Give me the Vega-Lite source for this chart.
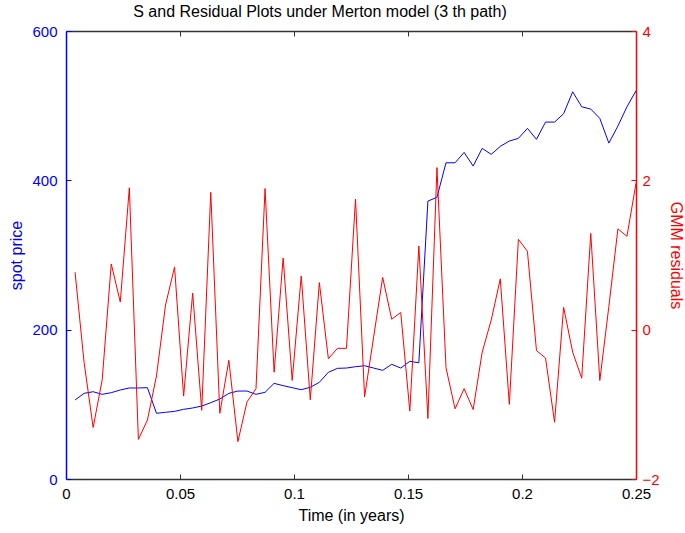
{
  "$schema": "https://vega.github.io/schema/vega-lite/v6.json",
  "width": 570,
  "height": 448,
  "autosize": {"type": "none"},
  "padding": {"left": 66, "top": 31, "right": 49, "bottom": 54},
  "background": "white",
  "config": {
    "font": "Liberation Sans",
    "view": {"stroke": null},
    "axis": {"grid": false, "labelFontSize": 15, "titleFontSize": 16, "titleFontWeight": "normal", "labelFont": "Liberation Sans", "titleFont": "Liberation Sans"}
  },
  "title": {"text": "S and Residual Plots under Merton model (3 th path)", "fontSize": 16, "fontWeight": "normal", "font": "Liberation Sans", "color": "black", "anchor": "middle", "frame": "group", "offset": 4, "dx": -31},
  "data": {"values": [
    {"t": 0.003968, "price": 105.8, "resid": 0.77},
    {"t": 0.007937, "price": 114.7, "resid": -0.44},
    {"t": 0.011905, "price": 116.9, "resid": -1.31},
    {"t": 0.015873, "price": 113.4, "resid": -0.67},
    {"t": 0.019841, "price": 115.6, "resid": 0.88},
    {"t": 0.02381, "price": 119.2, "resid": 0.37},
    {"t": 0.027778, "price": 121.9, "resid": 1.90},
    {"t": 0.031746, "price": 121.9, "resid": -1.47},
    {"t": 0.035714, "price": 122.3, "resid": -1.21},
    {"t": 0.039683, "price": 88.0, "resid": -0.62},
    {"t": 0.043651, "price": 89.3, "resid": 0.33},
    {"t": 0.047619, "price": 90.6, "resid": 0.84},
    {"t": 0.051587, "price": 93.3, "resid": -0.89},
    {"t": 0.055556, "price": 95.1, "resid": 0.49},
    {"t": 0.059524, "price": 97.7, "resid": -1.08},
    {"t": 0.063492, "price": 102.2, "resid": 1.84},
    {"t": 0.06746, "price": 107.1, "resid": -1.12},
    {"t": 0.071429, "price": 114.7, "resid": -0.41},
    {"t": 0.075397, "price": 117.8, "resid": -1.50},
    {"t": 0.079365, "price": 117.8, "resid": -0.97},
    {"t": 0.083333, "price": 113.4, "resid": -0.79},
    {"t": 0.087302, "price": 116.1, "resid": 1.89},
    {"t": 0.09127, "price": 128.1, "resid": -0.57},
    {"t": 0.095238, "price": 125.0, "resid": 0.96},
    {"t": 0.099206, "price": 122.3, "resid": -0.68},
    {"t": 0.103175, "price": 119.6, "resid": 0.72},
    {"t": 0.107143, "price": 122.8, "resid": -0.94},
    {"t": 0.111111, "price": 129.5, "resid": 0.63},
    {"t": 0.115079, "price": 142.9, "resid": -0.39},
    {"t": 0.119048, "price": 148.2, "resid": -0.25},
    {"t": 0.123016, "price": 148.6, "resid": -0.25},
    {"t": 0.126984, "price": 150.4, "resid": 1.75},
    {"t": 0.130952, "price": 151.7, "resid": -0.90},
    {"t": 0.134921, "price": 148.6, "resid": -0.10},
    {"t": 0.138889, "price": 145.5, "resid": 0.70},
    {"t": 0.142857, "price": 153.6, "resid": 0.14},
    {"t": 0.146825, "price": 148.6, "resid": 0.23},
    {"t": 0.150794, "price": 157.6, "resid": -1.09},
    {"t": 0.154762, "price": 155.7, "resid": 1.12},
    {"t": 0.15873, "price": 372.2, "resid": -1.19},
    {"t": 0.162698, "price": 377.2, "resid": 2.17},
    {"t": 0.166667, "price": 423.5, "resid": -0.51},
    {"t": 0.170635, "price": 423.5, "resid": -1.06},
    {"t": 0.174603, "price": 437.4, "resid": -0.79},
    {"t": 0.178571, "price": 419.1, "resid": -1.07},
    {"t": 0.18254, "price": 442.8, "resid": -0.30},
    {"t": 0.186508, "price": 434.8, "resid": 0.13},
    {"t": 0.190476, "price": 445.5, "resid": 0.68},
    {"t": 0.194444, "price": 452.6, "resid": -1.00},
    {"t": 0.198413, "price": 456.2, "resid": 1.21},
    {"t": 0.202381, "price": 469.6, "resid": 1.05},
    {"t": 0.206349, "price": 454.9, "resid": -0.28},
    {"t": 0.210317, "price": 478.0, "resid": -0.38},
    {"t": 0.214286, "price": 478.0, "resid": -1.24},
    {"t": 0.218254, "price": 489.2, "resid": 0.30},
    {"t": 0.222222, "price": 518.6, "resid": -0.30},
    {"t": 0.22619, "price": 498.5, "resid": -0.65},
    {"t": 0.230159, "price": 495.4, "resid": 1.29},
    {"t": 0.234127, "price": 483.0, "resid": -0.68},
    {"t": 0.238095, "price": 449.9, "resid": 0.31},
    {"t": 0.242063, "price": 472.7, "resid": 1.35},
    {"t": 0.246032, "price": 498.5, "resid": 1.25},
    {"t": 0.25, "price": 519.9, "resid": 1.96}
  ]},
  "layer": [
    {
      "mark": {"type": "line", "color": "#0000FF", "strokeWidth": 1, "clip": true},
      "encoding": {
        "x": {"field": "t", "type": "quantitative", "scale": {"domain": [0, 0.25], "nice": false, "zero": false},
          "axis": {"orient": "bottom", "title": "Time (in years)", "values": [0, 0.05, 0.1, 0.15, 0.2, 0.25], "format": "~g", "tickSize": -5, "labelPadding": 12, "domainColor": "#333", "tickColor": "#333", "domainWidth": 1.5, "labelColor": "black", "titleColor": "black", "titlePadding": 6, "labelFlush": false}},
        "y": {"field": "price", "type": "quantitative", "scale": {"domain": [0, 600], "nice": false},
          "axis": {"orient": "left", "title": "spot price", "values": [0, 200, 400, 600], "tickSize": -5, "labelPadding": 14, "domainColor": "#0000FF", "tickColor": "#0000FF", "labelColor": "#0000FF", "titleColor": "#0000FF", "domainWidth": 1.5, "titlePadding": 7, "labelFlush": false}}
      }
    },
    {
      "mark": {"type": "line", "color": "#FF0000", "strokeWidth": 1, "clip": true},
      "encoding": {
        "x": {"field": "t", "type": "quantitative",
          "axis": {"orient": "top", "title": null, "labels": false, "values": [0, 0.05, 0.1, 0.15, 0.2, 0.25], "tickSize": -5, "domainColor": "#333", "tickColor": "#333", "domainWidth": 1.5}},
        "y": {"field": "resid", "type": "quantitative", "scale": {"domain": [-2, 4], "nice": false, "zero": false},
          "axis": {"orient": "right", "title": "GMM residuals", "values": [-2, 0, 2, 4], "tickSize": -5, "labelPadding": 11, "domainColor": "#FF0000", "tickColor": "#FF0000", "labelColor": "#FF0000", "titleColor": "#FF0000", "domainWidth": 1.5, "titlePadding": 8, "labelFlush": false, "titleAngle": 90}}
      }
    }
  ],
  "resolve": {"scale": {"y": "independent"}, "axis": {"x": "independent", "y": "independent"}}
}
